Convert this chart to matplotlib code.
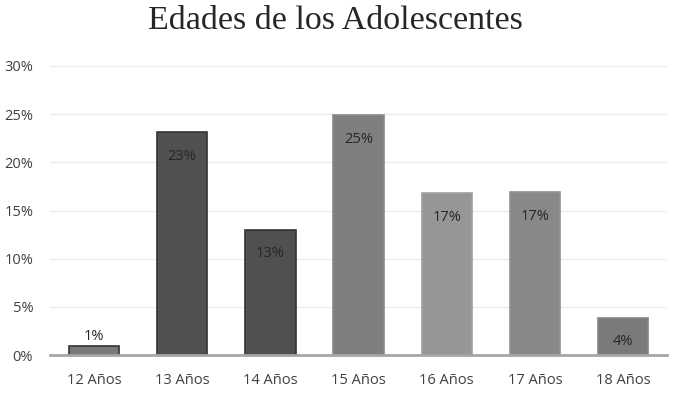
import matplotlib.pyplot as plt
from matplotlib.ticker import MultipleLocator, FuncFormatter

# data
edades = ['12 Años', '13 Años', '14 Años', '15 Años', '16 Años', '17 Años', '18 Años']
porcentajes = [1, 23, 13, 25, 17, 17, 4]
alturas = [0.95, 23.1, 13.0, 24.9, 16.8, 16.9, 3.9]
colores = ['#7a7a7a', '#505050', '#505050', '#7f7f7f', '#969696', '#888888', '#7a7a7a']
bordes = ['#333333', '#333333', '#333333', '#8a8a8a', '#a0a0a0', '#929292', '#858585']

plt.rcParams['font.family'] = ['Open Sans', 'DejaVu Sans']

fig = plt.figure(figsize=(6.74, 3.95), dpi=100)
ax = fig.add_axes([0.074, 0.101, 0.916, 0.732])

x = range(len(edades))
ax.bar(x, alturas, width=0.57, color=colores, edgecolor=bordes, linewidth=1.2, zorder=3)

for i, (h, p) in enumerate(zip(alturas, porcentajes)):
    if h < 2:
        ax.text(i, h + 1.0, f'{p}%', ha='center', va='center', fontsize=10.5, color='#262626', zorder=4)
    else:
        ax.text(i, h - 2.5, f'{p}%', ha='center', va='center', fontsize=10.5, color='#262626', zorder=4)

ax.set_xlim(-0.5, 6.5)
ax.set_ylim(0, 30)
ax.yaxis.set_major_locator(MultipleLocator(5))
ax.yaxis.set_major_formatter(FuncFormatter(lambda v, p: f'{v:.0f}%'))
ax.set_xticks(list(x))
ax.set_xticklabels(edades)
ax.tick_params(axis='both', length=0, labelsize=10.5, colors='#404040')
ax.tick_params(axis='x', pad=13)
ax.tick_params(axis='y', pad=12)
ax.yaxis.grid(True, color='#ebebeb', linewidth=1.0, zorder=0)

for s in ['top', 'right', 'left']:
    ax.spines[s].set_visible(False)
ax.spines['bottom'].set_color('#a6a6a6')
ax.spines['bottom'].set_linewidth(2)
ax.spines['bottom'].set_zorder(5)

fig.text(0.498, 0.948, 'Edades de los Adolescentes', ha='center', va='center',
         fontsize=24.5, family='Liberation Serif', color='#262626')

fig.savefig('out.png', dpi=100)
